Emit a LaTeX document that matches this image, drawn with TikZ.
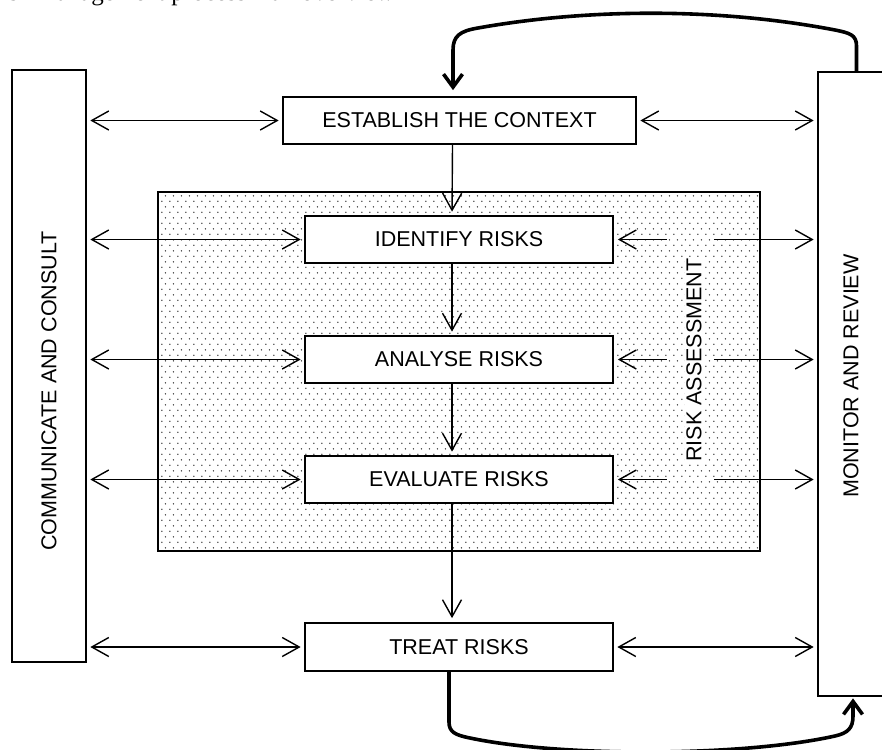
\documentclass[tikz,border=0pt]{standalone}
\usepackage{fontspec}
\setmainfont{Liberation Sans}
\newfontfamily\titlefont{Liberation Serif}
\usetikzlibrary{arrows.meta,patterns.meta,calc}
\tikzdeclarepattern{
  name=sdots,
  type=colored,
  bottom left={(0pt,0pt)},
  top right={(7.6pt,11.4pt)},
  tile size={(7.6pt,11.4pt)},
  code={
    \fill[black!80] (1.9pt,2.85pt) circle (0.8pt);
    \fill[black!80] (5.7pt,8.55pt) circle (0.8pt);
  }
}
\begin{document}
\begin{tikzpicture}[x=1pt,y=-1pt,
  txt/.style={font=\fontsize{21.5}{25}\selectfont},
  box/.style={draw,line width=1.7pt,fill=white,minimum height=47pt,inner sep=0pt,txt},
  side/.style={draw,line width=1.7pt,inner sep=0pt},
  vlbl/.style={rotate=90,inner sep=0pt,txt},
  tipA/.tip={Straight Barb[length=17pt,width=19pt]},
  arr/.style={line width=1.4pt,-tipA},
  darr/.style={line width=1.4pt,tipA-tipA,shorten <=3.5pt,shorten >=3.5pt},
  loopar/.style={line width=3.6pt,line join=round,line cap=round,-{Straight Barb[length=13pt,width=19pt]}}]
\useasboundingbox (0,0) rectangle (882,749);
\clip (0,0) rectangle (882,749);

% partially visible caption at the very top
\node[anchor=base west,inner sep=0pt,font=\titlefont\fontsize{25}{30}\selectfont] (title) at (-15,0.5) {Risk management process – an overview};

% side boxes
\node[side,minimum width=74pt,minimum height=592pt] (comm) at (49,366) {};
\node[vlbl] (commtxt) at (49,391) {COMMUNICATE AND CONSULT};
\node[side,minimum width=77pt,minimum height=624pt] (mon) at (856.5,384) {};
\node[vlbl] (montxt) at (851,376) {MONITOR AND REVIEW};

% risk assessment area
\node[draw,line width=1.7pt,pattern=sdots,minimum width=602pt,minimum height=359pt,inner sep=0pt] (ra) at (459,371.5) {};
\node[vlbl,fill=white,inner sep=1.5pt] (ratxt) at (694,360) {RISK ASSESSMENT};

% process boxes
\node[box,minimum width=353pt] (est) at (459.5,120.5) {ESTABLISH THE CONTEXT};
\node[box,minimum width=308pt] (id) at (459,239.5) {IDENTIFY RISKS};
\node[box,minimum width=308pt] (an) at (459,359.5) {ANALYSE RISKS};
\node[box,minimum width=308pt] (ev) at (459,479.5) {EVALUATE RISKS};
\node[box,minimum width=308pt,minimum height=48pt] (tr) at (459,647) {TREAT RISKS};

% vertical flow
\draw[arr,shorten >=3.5pt] ([xshift=-7]est.south) -- ([xshift=-7]id.north);
\draw[arr,shorten >=3.5pt] ([xshift=-7]id.south) -- ([xshift=-7]an.north);
\draw[arr,shorten >=3.5pt] ([xshift=-7]an.south) -- ([xshift=-7]ev.north);
\draw[arr,shorten >=4pt] ([xshift=-7]ev.south) -- ([xshift=-7]tr.north);

% communicate and consult arrows
\draw[darr] (comm.east |- est.west) -- (est.west);
\draw[darr] (comm.east |- id.west) -- (id.west);
\draw[darr] (comm.east |- an.west) -- (an.west);
\draw[darr] (comm.east |- ev.west) -- (ev.west);
\draw[darr] (comm.east |- tr.west) -- (tr.west);

% monitor and review arrows
\draw[darr] (est.east) -- (mon.west |- est.east);
\draw[darr] (tr.east) -- (mon.west |- tr.east);
\foreach \b in {id,an,ev}{
  \draw[arr,shorten >=4pt] ([xshift=53]\b.east) -- (\b.east);
  \draw[arr,shorten >=3.5pt] ([xshift=100]\b.east) -- (mon.west |- \b.east);
}

% feedback loops
\draw[loopar,shorten >=6pt] (mon.north) -- (856.5,46)
  .. controls (856.5,35) and (850,33) .. (835,30)
  .. controls (720,8) and (590,8) .. (478,28)
  .. controls (460,31) and (453,36) .. (453,50)
  -- ([xshift=-6.5]est.north);
\draw[loopar,shorten >=1.5pt] ([xshift=-10]tr.south) -- (449,722)
  .. controls (449,732) and (455,735) .. (470,738)
  .. controls (560,757) and (740,757) .. (835,736)
  .. controls (848,733) and (853,728) .. (853,716)
  -- ([xshift=-3.5]mon.south);
\end{tikzpicture}
\end{document}
